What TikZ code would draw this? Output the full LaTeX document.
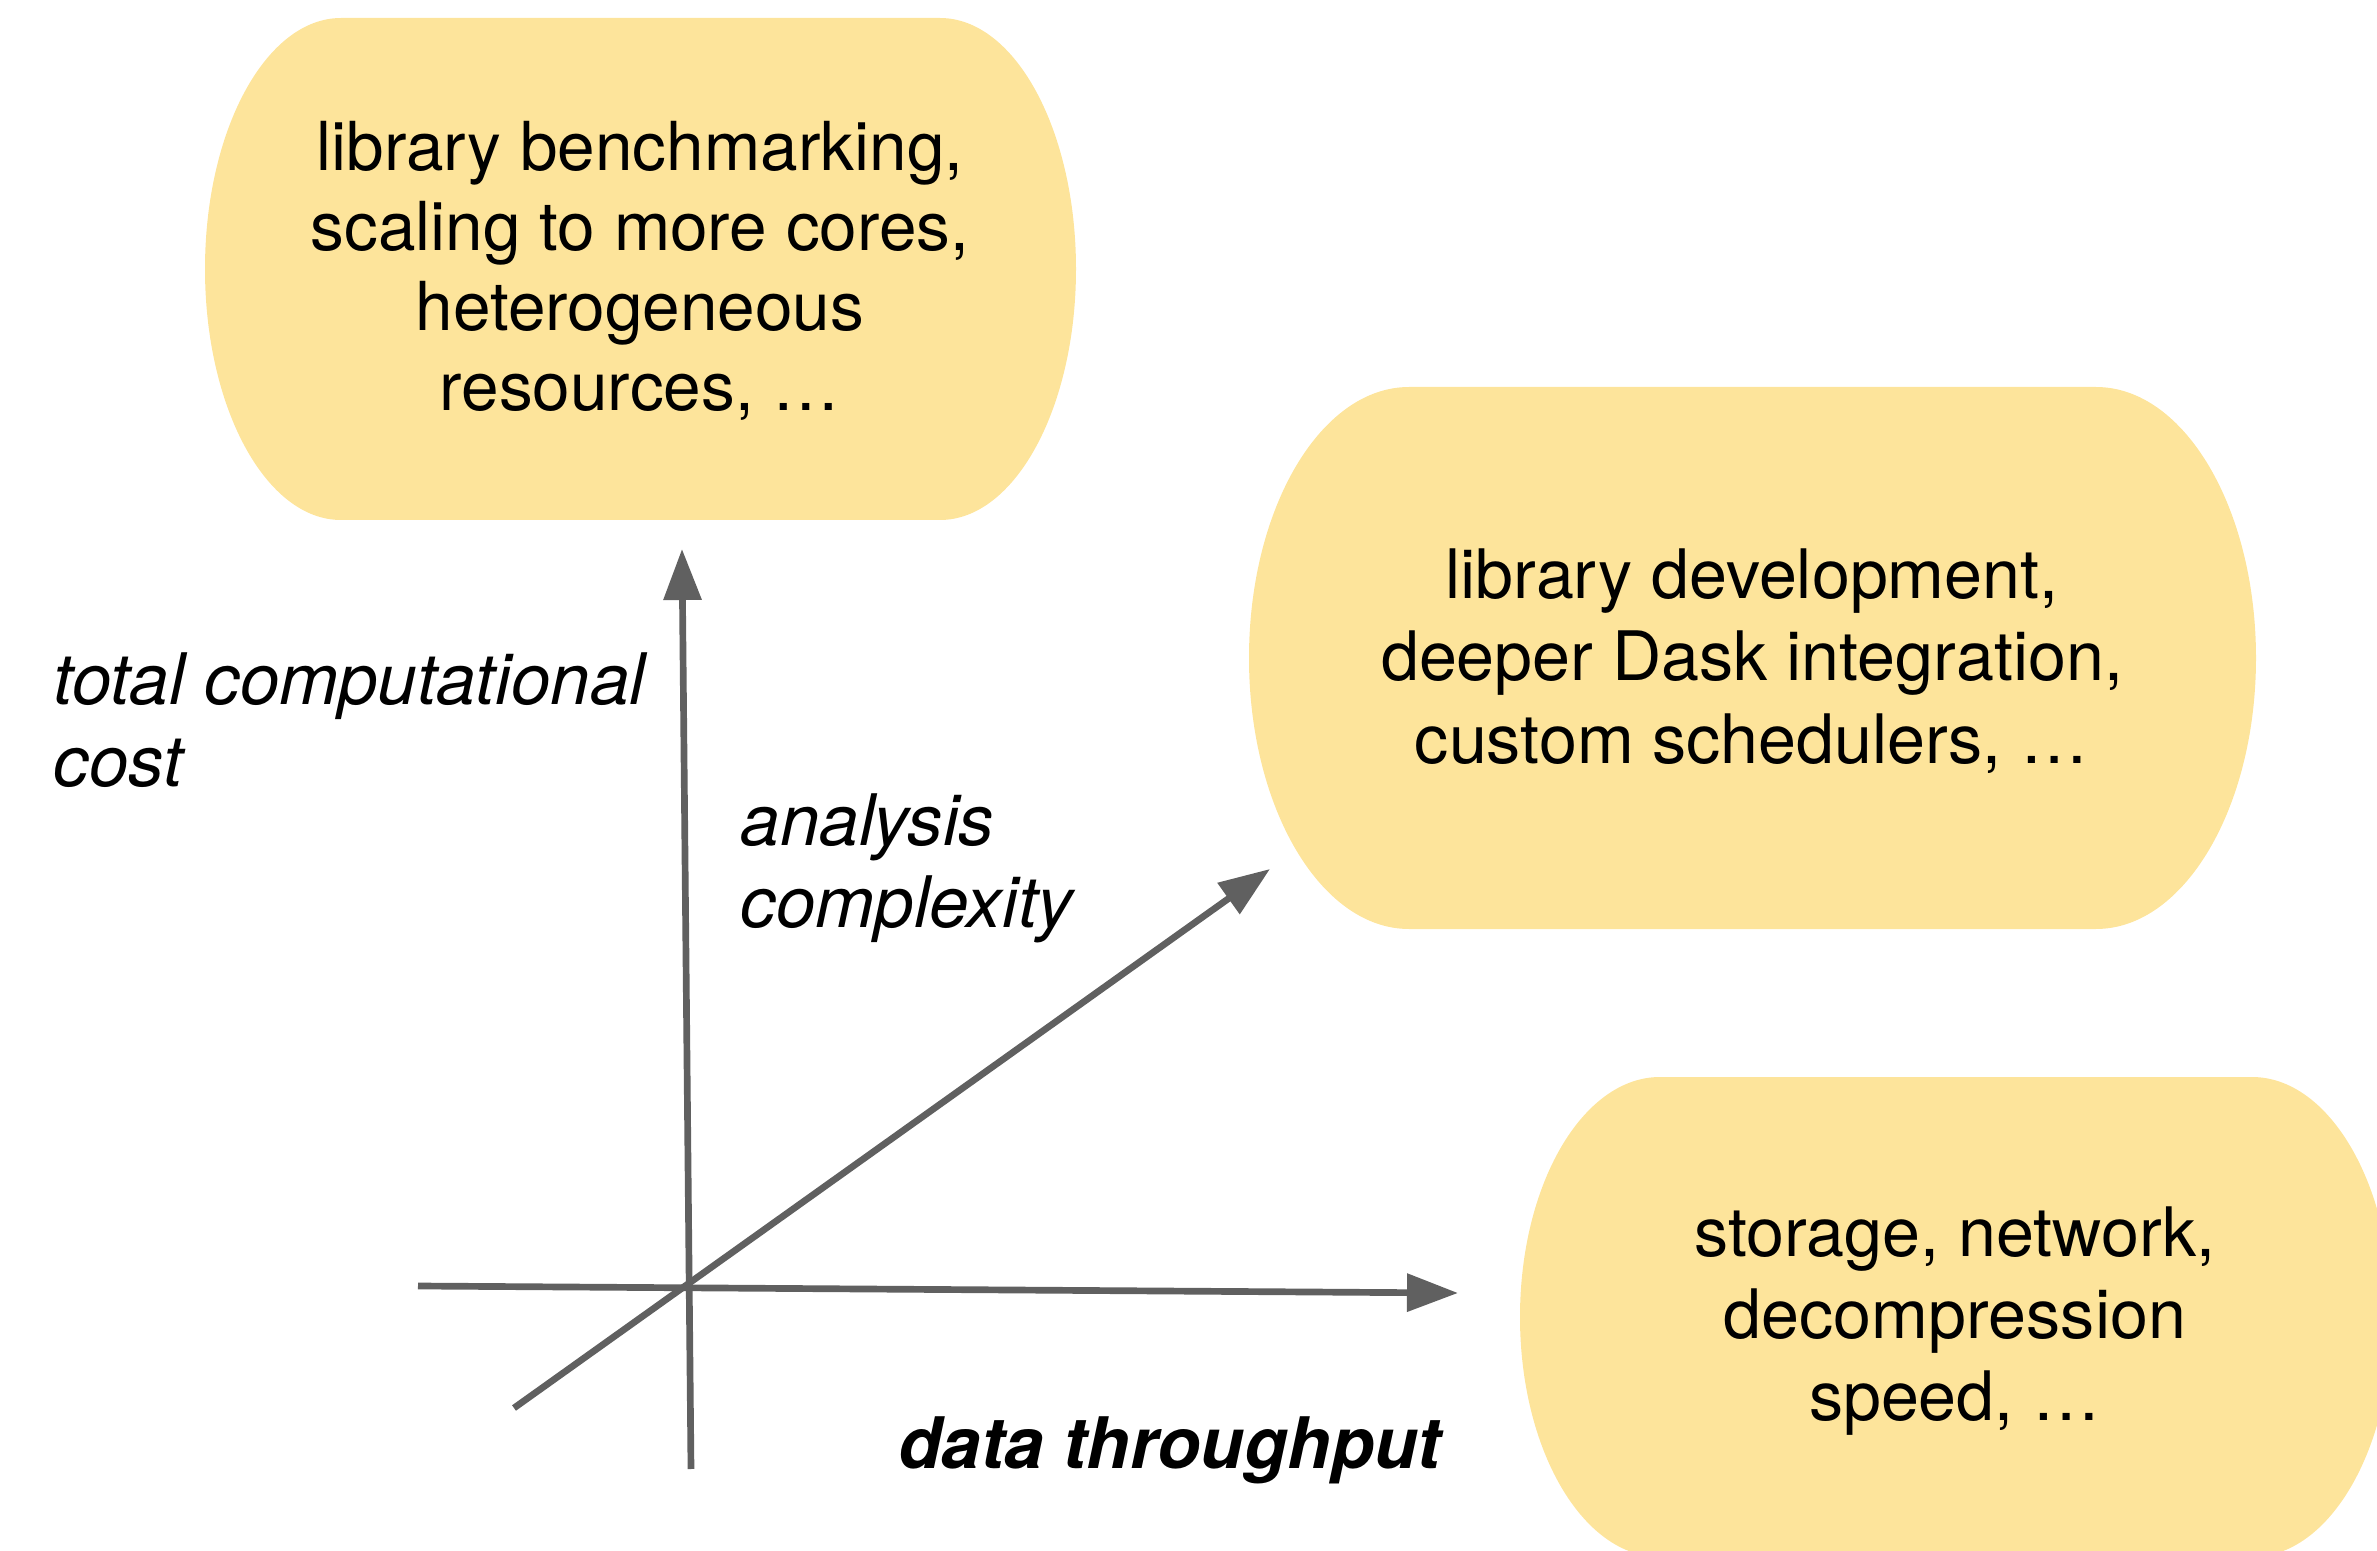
\documentclass[tikz,border=0pt]{standalone}
\usepackage{fontspec}
\setmainfont{TeX Gyre Heros}
\usetikzlibrary{arrows.meta}
\definecolor{blobyellow}{RGB}{253,228,155}
\definecolor{axisgray}{RGB}{96,96,96}

\begin{document}
\begin{tikzpicture}[x=0.01cm,y=0.01cm,
	axis/.style={draw=axisgray,line width=1.9pt,-{Triangle[length=14.5pt,width=10.5pt]}},
	blob/.style={fill=blobyellow},
	txt/.style={align=center,inner sep=0pt,font=\fontsize{19.4}{23.4}\selectfont},
	lbl/.style={align=left,inner sep=0pt,font=\fontsize{20.2}{23.4}\selectfont\itshape}]
	\clip (0,0) rectangle (2377,1550);

	\fill[blob] (341,1532) -- (940,1532) arc[start angle=90,end angle=-90,x radius=136,y radius=251]
		-- (341,1030) arc[start angle=270,end angle=90,x radius=136,y radius=251] -- cycle;
	\fill[blob] (1409,1163) -- (2096,1163) arc[start angle=90,end angle=-90,x radius=160,y radius=271]
		-- (1409,621) arc[start angle=270,end angle=90,x radius=160,y radius=271] -- cycle;
	\fill[blob] (1660,473) -- (2252,473) arc[start angle=90,end angle=-90,x radius=140,y radius=240]
		-- (1660,-7) arc[start angle=270,end angle=90,x radius=140,y radius=240] -- cycle;

	\node (bench) [txt,font=\fontsize{19.2}{22.8}\selectfont] at (640,1279) {library benchmarking,\\scaling to more cores,\\heterogeneous\\resources, …};
	\node (devel) [txt] at (1752,889) {library development,\\deeper Dask integration,\\custom schedulers, …};
	\node (storage) [txt] at (1955,229) {storage, network,\\decompression\\speed, …};

	\coordinate (xstart) at (418,264);
	\coordinate (xend) at (1458,257);
	\coordinate (ystart) at (691,81);
	\coordinate (yend) at (682,1001);
	\coordinate (zstart) at (514,142);
	\coordinate (zend) at (1270,681);

	\draw[axis] (xstart) -- (xend);
	\draw[axis] (ystart) -- (yend);
	\draw[axis] (zstart) -- (zend);

	\node (costlbl) [lbl,anchor=west] at (53,830) {total computational\\cost};
	\node (complbl) [lbl,anchor=west] at (740,682) {analysis\\complexity};
	\node (datalbl) [lbl,font=\fontsize{20.2}{23.4}\selectfont\bfseries\itshape] at (1170,100) {data throughput};
\end{tikzpicture}
\end{document}
